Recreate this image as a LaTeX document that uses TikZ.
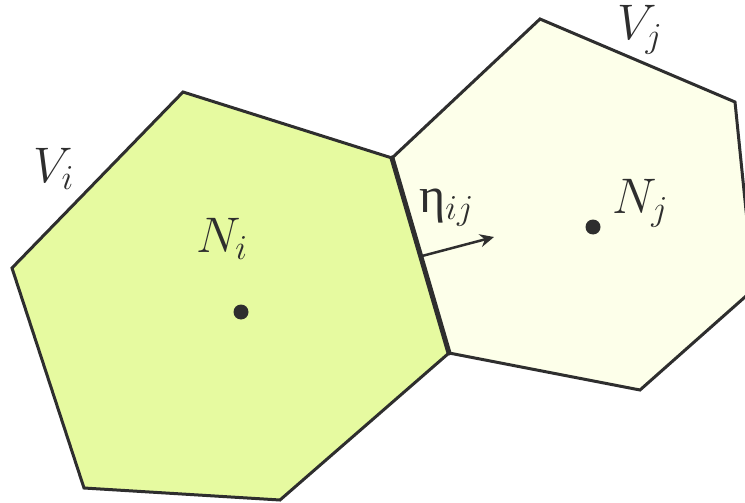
\RequirePackage{fix-cm}
\documentclass[tikz,border=0pt]{standalone}
\usepackage{fontspec}
\newfontfamily\grk{Liberation Serif}
\usetikzlibrary{arrows.meta}
\definecolor{edgec}{HTML}{2E2E2E}
\definecolor{cellI}{HTML}{E6FAA0}
\definecolor{cellJ}{HTML}{FDFFEA}
\tikzset{
  cell/.style={draw=edgec, line width=3pt, line join=miter},
  shared/.style={draw=edgec, line width=5pt, line cap=round},
  lbl/.style={inner sep=0pt, anchor=base west, font=\fontsize{50}{60}\selectfont, text=edgec},
  dotn/.style={circle, fill=edgec, inner sep=0pt, minimum size=15pt},
  normal/.style={draw=edgec, line width=2.5pt, -{Stealth[length=14pt,width=13pt]}}
}
\begin{document}
\begin{tikzpicture}[x=1pt,y=-1pt]
\useasboundingbox (0,0) rectangle (745,503);
% vertices
\coordinate (a1) at (183,92);
\coordinate (s1) at (392,158);
\coordinate (s2) at (449,353);
\coordinate (a4) at (280,500);
\coordinate (a5) at (84,488);
\coordinate (a6) at (12,268);
\coordinate (b2) at (540,19);
\coordinate (b3) at (735,102);
\coordinate (b4) at (754,289);
\coordinate (b5) at (640,390);
% cells
\path[cell, fill=cellJ] (s1) -- (b2) -- (b3) -- (b4) -- (b5) -- (s2) -- cycle;
\path[cell, fill=cellI] (a1) -- (s1) -- (s2) -- (a4) -- (a5) -- (a6) -- cycle;
\draw[shared] (s1) -- (s2);
% centres
\node[dotn] (ni) at (241,312) {};
\node[dotn] (nj) at (593,227) {};
% labels
\node[lbl] (li) at (196,252) {$N_i$};
\node[lbl] (lj) at (612,213) {$N_j$};
\node[lbl] (vi) at (33,182) {$V_i$};
\node[lbl] (vj) at (617,40) {$V_j$};
\node[lbl] (eta) at (419,212) {{\grk η}$_{ij}$};
% normal
\coordinate (n0) at (422,256);
\coordinate (n1) at (494,237);
\draw[normal] (n0) -- (n1);
\end{tikzpicture}
\end{document}
